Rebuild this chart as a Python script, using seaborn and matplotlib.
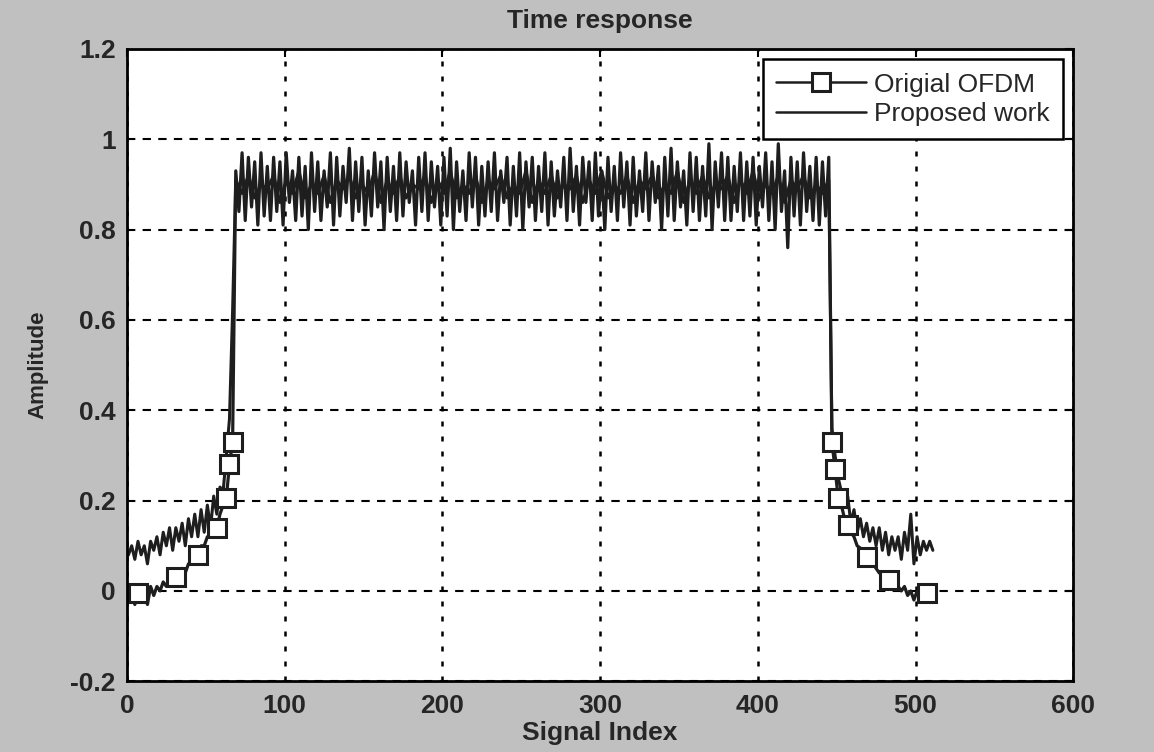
import numpy as np
import pandas as pd
import matplotlib
matplotlib.use("Agg")
import matplotlib.pyplot as plt
import seaborn as sns

# ---------------- data ----------------
title = "Time response"
xlabel = "Signal Index"
ylabel = "Amplitude"
series_names = ["Origial OFDM", "Proposed work"]
xticks = [0, 100, 200, 300, 400, 500, 600]
yticks = [-0.2, 0, 0.2, 0.4, 0.6, 0.8, 1.0, 1.2]
ytick_labels = ["-0.2", "0", "0.2", "0.4", "0.6", "0.8", "1", "1.2"]

# sample indices
idx_left = list(range(1, 69, 2))         # 1..67
idx_plateau = list(range(69, 447, 2))    # 69..445  (original)
idx_plateau_p = list(range(69, 447, 4))  # 69..445  (proposed, coarser)
idx_right = list(range(447, 513, 2))     # 447..511

plateau = [
    0.93, 0.84, 0.97, 0.82, 0.96, 0.85, 0.95, 0.81, 0.97, 0.83, 0.94, 0.82, 0.96, 0.84, 0.95, 0.81, 0.97, 0.86, 0.93, 0.82,
    0.96, 0.83, 0.94, 0.80, 0.97, 0.84, 0.95, 0.82, 0.93, 0.85, 0.97, 0.81, 0.96, 0.83, 0.94, 0.86, 0.98, 0.82, 0.95, 0.84,
    0.96, 0.81, 0.93, 0.83, 0.97, 0.85, 0.95, 0.80, 0.96, 0.84, 0.94, 0.82, 0.97, 0.83, 0.95, 0.86, 0.93, 0.81, 0.96, 0.84,
    0.97, 0.82, 0.95, 0.85, 0.94, 0.81, 0.96, 0.83, 0.98, 0.80, 0.95, 0.84, 0.93, 0.82, 0.97, 0.85, 0.96, 0.81, 0.94, 0.83,
    0.95, 0.84, 0.97, 0.82, 0.93, 0.86, 0.96, 0.81, 0.94, 0.83, 0.97, 0.80, 0.95, 0.85, 0.96, 0.82, 0.94, 0.84, 0.97, 0.81,
    0.95, 0.83, 0.93, 0.85, 0.96, 0.82, 0.98, 0.84, 0.94, 0.81, 0.96, 0.86, 0.95, 0.82, 0.97, 0.83, 0.93, 0.80, 0.96, 0.84,
    0.94, 0.82, 0.97, 0.85, 0.95, 0.81, 0.96, 0.83, 0.93, 0.84, 0.97, 0.82, 0.95, 0.86, 0.94, 0.80, 0.96, 0.83, 0.98, 0.82,
    0.95, 0.85, 0.93, 0.81, 0.97, 0.84, 0.96, 0.82, 0.94, 0.83, 0.99, 0.80, 0.95, 0.85, 0.97, 0.82, 0.96, 0.82, 0.94, 0.84,
    0.97, 0.82, 0.95, 0.83, 0.96, 0.81, 0.94, 0.85, 0.97, 0.82, 0.95, 0.80, 0.99, 0.84, 0.93, 0.76, 0.96, 0.83, 0.95, 0.81,
    0.97, 0.84, 0.94, 0.82, 0.96, 0.81, 0.95, 0.83, 0.96,
]
plateau_p = [
    0.91, 0.88, 0.92, 0.87, 0.90, 0.89, 0.92, 0.86, 0.91, 0.88,
    0.93, 0.87, 0.90, 0.88, 0.92, 0.86, 0.91, 0.89, 0.92, 0.87,
    0.90, 0.88, 0.93, 0.86, 0.91, 0.88, 0.92, 0.87, 0.90, 0.89,
    0.92, 0.86, 0.91, 0.88, 0.93, 0.87, 0.90, 0.88, 0.92, 0.86,
    0.91, 0.89, 0.92, 0.87, 0.90, 0.88, 0.93, 0.86, 0.91, 0.88,
    0.92, 0.87, 0.90, 0.89, 0.92, 0.86, 0.91, 0.88, 0.93, 0.87,
    0.90, 0.88, 0.92, 0.86, 0.91, 0.89, 0.92, 0.87, 0.90, 0.88,
    0.93, 0.86, 0.91, 0.88, 0.92, 0.87, 0.90, 0.89, 0.92, 0.86,
    0.91, 0.88, 0.93, 0.87, 0.90, 0.88, 0.92, 0.86, 0.91, 0.89,
    0.92, 0.87, 0.90, 0.88, 0.91,
]

orig_left = [
    -0.02, 0.00, -0.03, -0.005, -0.02, 0.00, -0.03, 0.01, -0.01, 0.01,
    0.00, 0.02, 0.01, 0.03, 0.02, 0.03, 0.04, 0.05, 0.04, 0.06,
    0.06, 0.08, 0.08, 0.10, 0.10, 0.12, 0.12, 0.14, 0.14, 0.17,
    0.19, 0.205, 0.28, 0.33,
]
orig_right = [
    0.33, 0.27, 0.205, 0.19, 0.16, 0.145, 0.13, 0.12, 0.10, 0.095,
    0.08, 0.075, 0.065, 0.06, 0.05, 0.04, 0.035, 0.03, 0.025, 0.02,
    0.015, 0.01, 0.00, 0.01, -0.01, 0.00, -0.02, 0.00, -0.02, -0.01,
    -0.005, -0.02, -0.01,
]
prop_left = [
    0.08, 0.10, 0.07, 0.11, 0.08, 0.10, 0.06, 0.11, 0.09, 0.12,
    0.08, 0.13, 0.10, 0.14, 0.09, 0.14, 0.11, 0.15, 0.10, 0.16,
    0.12, 0.17, 0.12, 0.18, 0.13, 0.19, 0.14, 0.21, 0.17, 0.23,
    0.22, 0.30, 0.38, 0.62,
]
prop_right = [
    0.36, 0.30, 0.25, 0.22, 0.19, 0.21, 0.15, 0.18, 0.13, 0.16,
    0.12, 0.15, 0.11, 0.14, 0.10, 0.14, 0.09, 0.13, 0.08, 0.12,
    0.09, 0.12, 0.07, 0.13, 0.09, 0.17, 0.06, 0.12, 0.08, 0.11,
    0.09, 0.11, 0.09,
]
# sample indices that carry a square marker on the original curve
marker_idx = [7, 31, 45, 57, 63, 65, 67, 447, 449, 451, 457, 469, 483, 507]

# ---------------- build tables ----------------
x_o = idx_left + idx_plateau + idx_right
y_o = orig_left + plateau + orig_right
x_p = idx_left + idx_plateau_p + idx_right
y_p = prop_left + plateau_p + prop_right
df_o = pd.DataFrame({"x": x_o, "y": y_o})
df_p = pd.DataFrame({"x": x_p, "y": y_p})
mark_pos = [x_o.index(m) for m in marker_idx]

sns.set_style("white")
plt.rcParams["font.family"] = ["Liberation Sans", "DejaVu Sans"]
plt.rcParams["font.weight"] = "bold"

fig = plt.figure(figsize=(11.54, 7.52), dpi=100, facecolor="#c0c0c0")
ax = fig.add_axes([0.110, 0.094, 0.820, 0.841])
ax.set_facecolor("white")

line_col = "#1e1e1e"
sns.lineplot(data=df_p, x="x", y="y", ax=ax, color=line_col, lw=2.2,
             estimator=None, sort=False, label=series_names[1])
sns.lineplot(data=df_o, x="x", y="y", ax=ax, color=line_col, lw=2.3,
             estimator=None, sort=False, marker="s", markevery=mark_pos,
             markersize=13, markerfacecolor="white", markeredgecolor="#1e1e1e",
             markeredgewidth=2.2, label=series_names[0])

ax.set_xlim(0, 600)
ax.set_ylim(-0.2, 1.2)
ax.set_xticks(xticks)
ax.set_xticklabels([str(t) for t in xticks])
ax.set_yticks(yticks)
ax.set_yticklabels(ytick_labels)
ax.tick_params(direction="in", length=6, width=1.5, labelsize=19, top=True, right=True,
               color="black")
ax.tick_params(axis="x", pad=9)
ax.tick_params(axis="y", pad=8)
for lab in ax.get_xticklabels() + ax.get_yticklabels():
    lab.set_fontweight("bold")
ax.grid(True, axis="y", color="black", linestyle=(0, (4, 3.5)), linewidth=1.5)
ax.grid(True, axis="x", color="black", linestyle=(0, (2, 4)), linewidth=1.8)
for s in ax.spines.values():
    s.set_visible(True)
    s.set_color("black")
    s.set_linewidth(2.0)

ax.set_title(title, fontsize=19, fontweight="bold", pad=15)
ax.set_xlabel(xlabel, fontsize=19, fontweight="bold", labelpad=2)
ax.set_ylabel(ylabel, fontsize=16, fontweight="bold", labelpad=16)

handles, labels = ax.get_legend_handles_labels()
order = [labels.index(series_names[0]), labels.index(series_names[1])]
leg = ax.legend([handles[i] for i in order], [labels[i] for i in order],
                loc="upper right", fontsize=19, frameon=True, fancybox=False,
                framealpha=1, edgecolor="black", borderaxespad=0.4,
                handlelength=3.4, handletextpad=0.3, borderpad=0.5, labelspacing=0.2)
leg.get_frame().set_linewidth(1.8)
for line in leg.get_lines():
    line.set_linewidth(1.8)
for t in leg.get_texts():
    t.set_fontweight("normal")

fig.savefig("out.png", dpi=100, facecolor=fig.get_facecolor())
